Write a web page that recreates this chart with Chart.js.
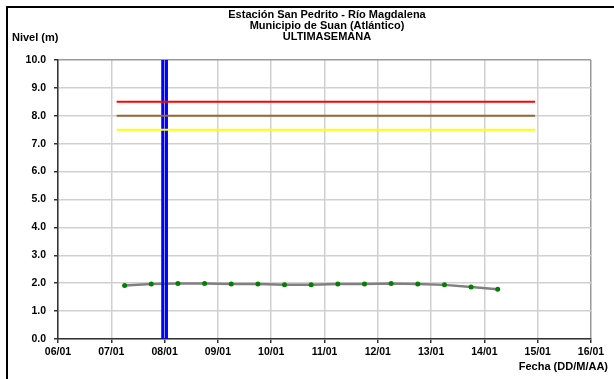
<!DOCTYPE html>
<html>
<head>
<meta charset="utf-8">
<script src="https://cdn.jsdelivr.net/npm/chart.js@4.4.0/dist/chart.umd.min.js"></script>
<style>
  html, body { margin: 0; padding: 0; background: #fff; }
  #wrap { width: 614px; height: 379px; position: relative; }
</style>
</head>
<body>
<div id="wrap"><canvas id="nivelChart" width="614" height="379"></canvas></div>
<script>
// days of January (x) and water level in metres (y)
const fechas = [7.25, 7.75, 8.25, 8.75, 9.25, 9.75, 10.25, 10.75, 11.25, 11.75, 12.25, 12.75, 13.25, 13.75, 14.25];
const niveles = [1.92, 1.97, 1.99, 1.99, 1.97, 1.97, 1.94, 1.94, 1.97, 1.97, 1.99, 1.97, 1.94, 1.86, 1.78];

// alert thresholds
const umbralInicio = 7.1;
const umbralFin = 14.95;
const umbralRojo = 8.5;
const umbralNaranja = 8.0;
const umbralAmarillo = 7.5;

// current-day marker (double blue line)
const marcaDia = [7.965, 8.035];

const titulo = ['Estación San Pedrito - Río Magdalena', 'Municipio de Suan (Atlántico)', 'ULTIMASEMANA'];
const font = 'bold 11px "Liberation Sans", Arial, sans-serif';

const hLine = (y, color) => ({
    data: [{ x: umbralInicio, y: y }, { x: umbralFin, y: y }],
    borderColor: color,
    borderWidth: 2,
    pointRadius: 0,
    fill: false
});
const vLine = (x) => ({
    data: [{ x: x, y: 0 }, { x: x, y: 10 }],
    borderColor: '#0000ff',
    borderWidth: 3,
    pointRadius: 0,
    fill: false
});

const textos = {
    id: 'textos',
    beforeDraw(chart) {
        const c = chart.ctx;
        c.save();
        c.fillStyle = '#fff';
        c.fillRect(0, 0, chart.width, chart.height);
        c.restore();
    },
    afterDraw(chart) {
        const c = chart.ctx;
        c.save();
        c.fillStyle = '#000';
        c.font = font;
        c.textBaseline = 'middle';
        c.textAlign = 'center';
        titulo.forEach((t, i) => c.fillText(t, 327, 15 + i * 11));
        c.textAlign = 'left';
        c.fillText('Nivel (m)', 12, 38);
        c.textAlign = 'right';
        c.fillText('Fecha (DD/M/AA)', 608, 367);
        // outer frame
        c.strokeStyle = '#000';
        c.lineWidth = 2;
        c.beginPath();
        c.moveTo(7, 379);
        c.lineTo(7, 7);
        c.lineTo(614, 7);
        c.stroke();
        c.restore();
    }
};

const tickFont = { family: '"Liberation Sans", Arial', size: 10.5, weight: 'bold' };

new Chart(document.getElementById('nivelChart').getContext('2d'), {
    type: 'line',
    data: {
        datasets: [
            hLine(umbralRojo, '#ff0000'),
            hLine(umbralNaranja, '#996633'),
            hLine(umbralAmarillo, '#ffff00'),
            vLine(marcaDia[0]),
            vLine(marcaDia[1]),
            {
                data: fechas.map((f, i) => ({ x: f, y: niveles[i] })),
                borderColor: '#808080',
                borderWidth: 2.5,
                pointRadius: 2.5,
                pointBackgroundColor: '#008000',
                pointBorderColor: '#008000',
                pointBorderWidth: 0,
                fill: false
            }
        ]
    },
    options: {
        responsive: false,
        animation: false,
        layout: { padding: { top: 60, right: 23, bottom: 0, left: 0 } },
        plugins: { legend: { display: false }, tooltip: { enabled: false } },
        scales: {
            x: {
                type: 'linear',
                min: 6,
                max: 16,
                afterFit: s => { s.height = 40; },
                ticks: {
                    stepSize: 1,
                    color: '#000',
                    font: tickFont,
                    padding: 3,
                    maxRotation: 0,
                    callback: v => String(v).padStart(2, '0') + '/01'
                },
                grid: {
                    color: ctx => ctx.index === 10 ? '#999' : '#d0d0d0',
                    lineWidth: 1.5,
                    tickLength: 4,
                    tickColor: '#333'
                },
                border: { color: '#333', width: 1.5 }
            },
            y: {
                min: 0,
                max: 10,
                afterFit: s => { s.width = 58; },
                ticks: {
                    stepSize: 1,
                    color: '#000',
                    font: tickFont,
                    padding: 8,
                    callback: v => v.toFixed(1)
                },
                grid: {
                    color: ctx => ctx.index === 10 ? '#999' : '#d0d0d0',
                    lineWidth: 1.5,
                    tickLength: 4,
                    tickColor: '#333'
                },
                border: { color: '#333', width: 1.5 }
            }
        }
    },
    plugins: [textos]
});
</script>
</body>
</html>
